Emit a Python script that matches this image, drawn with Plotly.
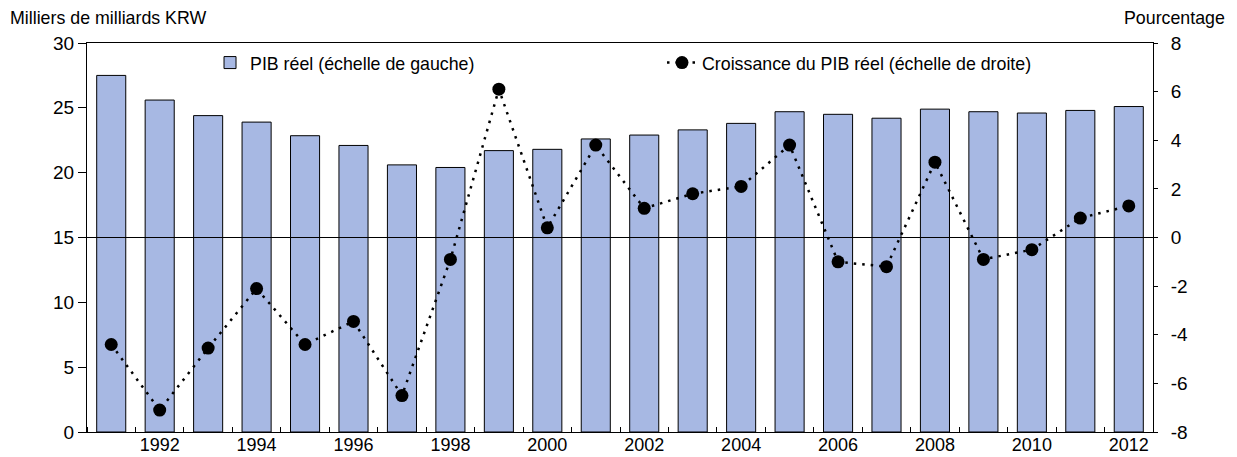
import plotly.graph_objects as go

years = [1991, 1992, 1993, 1994, 1995, 1996, 1997, 1998, 1999, 2000, 2001,
         2002, 2003, 2004, 2005, 2006, 2007, 2008, 2009, 2010, 2011, 2012]
pib_reel = [27.5, 25.6, 24.4, 23.9, 22.85, 22.1, 20.6, 20.4, 21.7, 21.8, 22.6,
            22.9, 23.3, 23.8, 24.7, 24.5, 24.2, 24.9, 24.7, 24.6, 24.8, 25.1]
croissance = [-4.4, -7.1, -4.55, -2.1, -4.4, -3.45, -6.5, -0.9, 6.1, 0.4, 3.8,
              1.2, 1.8, 2.1, 3.8, -1.0, -1.2, 3.1, -0.9, -0.5, 0.8, 1.3]
x_tick_labels = ["1992", "1994", "1996", "1998", "2000", "2002", "2004",
                 "2006", "2008", "2010", "2012"]
x_tick_vals = [int(t) for t in x_tick_labels]
left_ticks = [0, 5, 10, 15, 20, 25, 30]
right_tick_labels = ["-8", "-6", "-4", "-2", "0", "2", "4", "6", "8"]
right_ticks = [int(t) for t in right_tick_labels]

FONT = "Liberation Sans, Arial, sans-serif"
TICK = 19
TXT = 17.8

fig = go.Figure()
fig.add_trace(go.Bar(
    x=years, y=pib_reel, name="PIB réel (échelle de gauche)",
    marker=dict(color="#A7B8E3", line=dict(color="#000000", width=1)),
    width=0.6, yaxis="y", legend="legend",
))
fig.add_trace(go.Scatter(
    x=years, y=croissance, name="Croissance du PIB réel (échelle de droite)",
    mode="lines+markers",
    line=dict(color="#000000", width=2.5, dash="2.5px,6px"),
    marker=dict(color="#000000", size=13),
    yaxis="y2", legend="legend2",
))

fig.add_shape(type="line", xref="paper", x0=0, x1=1, yref="y", y0=15, y1=15,
              line=dict(color="#000000", width=1), layer="above")

# page has an 8px body margin, compensate
fig.update_layout(
    width=1229, height=449,
    margin=dict(l=79, r=84, t=35, b=25, autoexpand=False),
    plot_bgcolor="white", paper_bgcolor="white",
    font=dict(family=FONT, color="#000000", size=TICK),
    xaxis=dict(
        range=[1990.5, 2012.5], tickvals=x_tick_vals, ticktext=x_tick_labels,
        ticks="", showgrid=False, zeroline=False,
        showline=True, linecolor="#000000", linewidth=1, mirror=True,
        minor=dict(ticks="inside", ticklen=5, tick0=0.5, dtick=1,
                   tickcolor="#000000", showgrid=False),
        tickfont=dict(size=18), ticklabelstandoff=-4,
    ),
    yaxis=dict(
        range=[0, 30], tickvals=left_ticks, ticks="outside", ticklen=8,
        tickcolor="#000000", showgrid=False, zeroline=False,
        showline=True, linecolor="#000000", linewidth=1,
        tickfont=dict(size=TICK),
    ),
    yaxis2=dict(
        range=[-8, 8], tickvals=right_ticks, ticktext=right_tick_labels,
        overlaying="y", side="right",
        ticks="outside", ticklen=4, tickcolor="#000000",
        showgrid=False, zeroline=False,
        showline=True, linecolor="#000000", linewidth=1,
        tickfont=dict(size=TICK), ticklabelstandoff=9,
    ),
    legend=dict(x=0.1154, y=0.9486, xanchor="left", yanchor="middle",
                bgcolor="rgba(0,0,0,0)", font=dict(size=TXT)),
    legend2=dict(x=0.5394, y=0.9486, xanchor="left", yanchor="middle",
                 bgcolor="rgba(0,0,0,0)", font=dict(size=TXT)),
    showlegend=True,
)

fig.add_annotation(text="Milliers de milliards KRW", xref="paper", yref="paper",
                   x=-0.0741, y=1.0, xanchor="left", yanchor="middle", yshift=25,
                   showarrow=False, font=dict(size=TXT))
fig.add_annotation(text="Pourcentage", xref="paper", yref="paper",
                   x=1.0694, y=1.0, xanchor="right", yanchor="middle", yshift=25,
                   showarrow=False, font=dict(size=TXT))

fig.write_html("out.html")
